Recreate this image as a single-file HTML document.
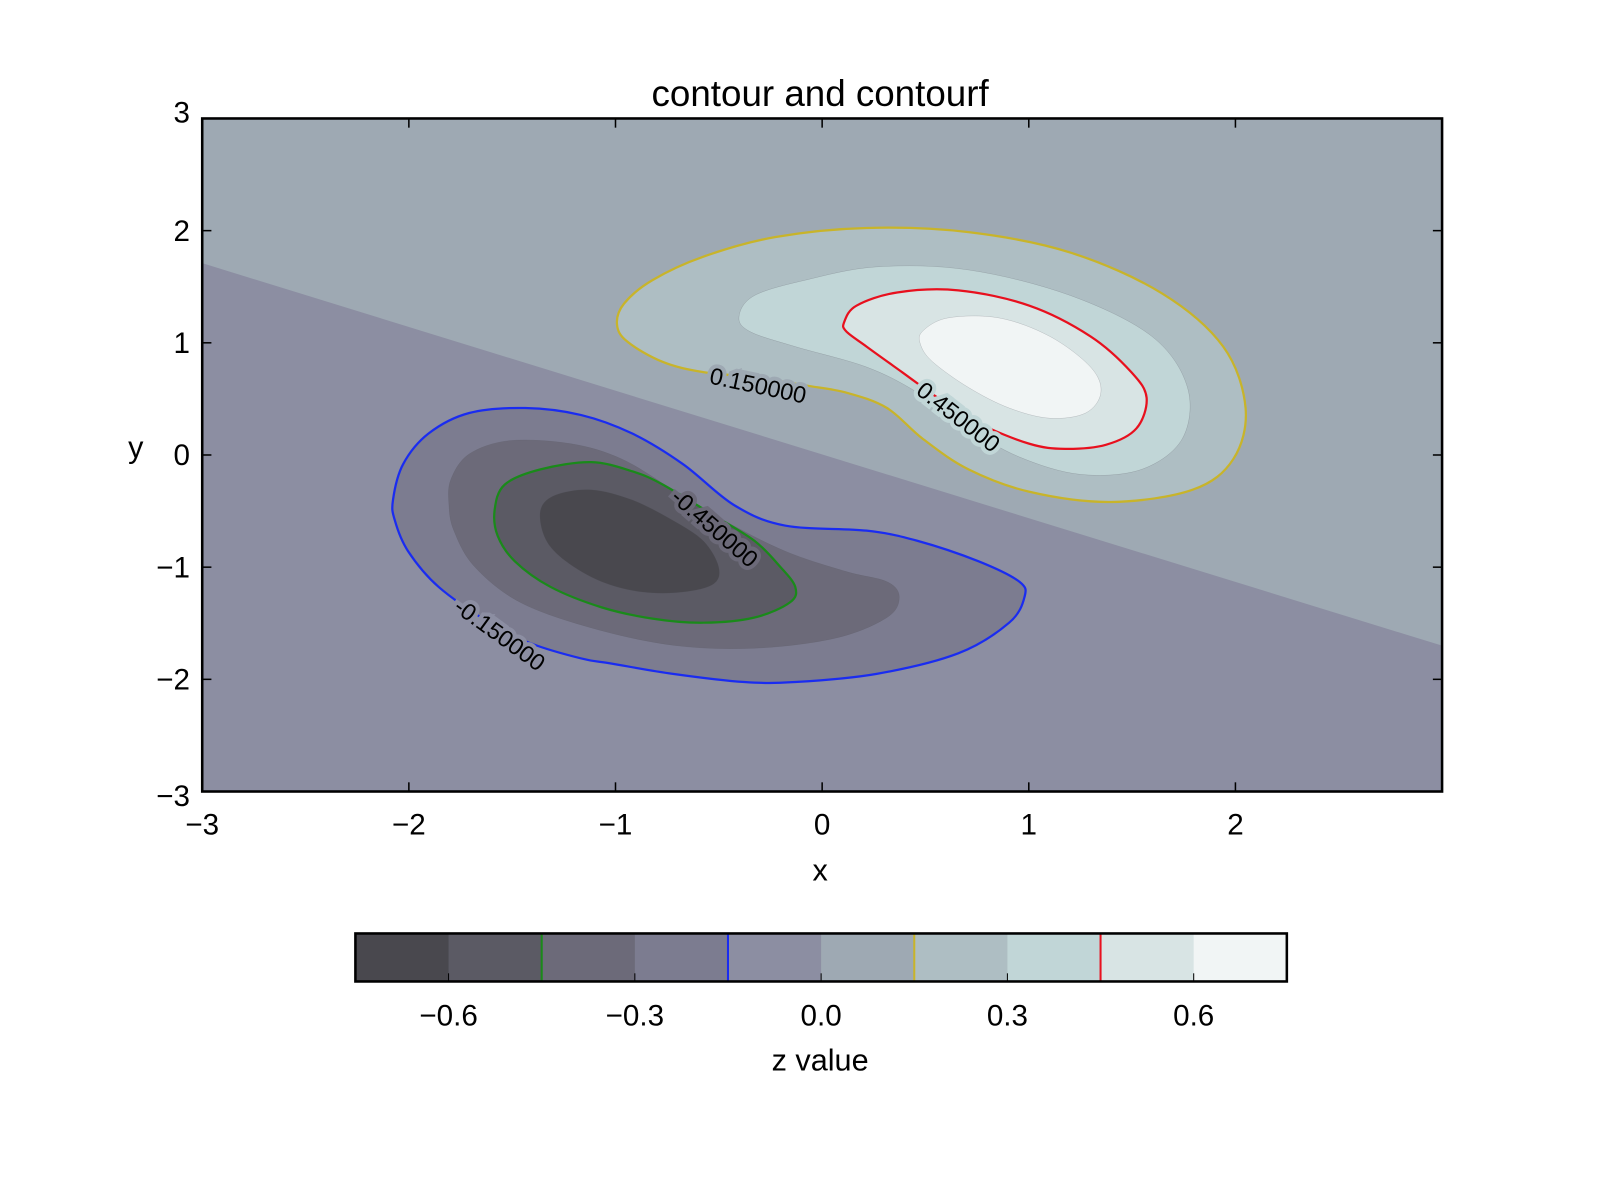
<!DOCTYPE html>
<html><head><meta charset="utf-8">
<style>
html,body{margin:0;padding:0;background:#fff;}
svg{display:block;font-family:"Liberation Sans",sans-serif;}
</style></head>
<body>
<svg id="chart" width="1600" height="1200" viewBox="0 0 1600 1200" xmlns="http://www.w3.org/2000/svg">
<defs><clipPath id="plotclip"><rect x="198" y="116" width="1214" height="659"/></clipPath></defs>
<g transform="scale(1.0213)">
<text x="803" y="104" font-size="36" text-anchor="middle">contour and contourf</text>
<g id="plot" clip-path="url(#plotclip)"></g>
<g id="axes"></g>
<g id="cbar"></g>
<text x="803" y="862" font-size="30" text-anchor="middle">x</text>
<text x="133" y="448" font-size="30" text-anchor="middle">y</text>
<text x="803" y="1048" font-size="30" text-anchor="middle">z value</text>
</g>
</svg>
<script>
// ---- data ----
const levels = [-0.75,-0.6,-0.45,-0.3,-0.15,0,0.15,0.3,0.45,0.6,0.75];
const binColors = ['#49484e','#5b5a64','#6c6a79','#7c7c90','#8c8ea2','#9ea9b3','#aebec3','#c1d6d7','#d8e4e4','#f1f5f5'];
const lineLevels = [-0.45,-0.15,0.15,0.45];
const lineColors = ['#1a8a1a','#1a2cf0','#c8b42a','#e8101e'];
const cbTicks = [-0.6,-0.3,0.0,0.3,0.6];
const xTicks = [-3,-2,-1,0,1,2];
const yTicks = [-3,-2,-1,0,1,2,3];
// zero line separating the two background bins
const zeroLineX = [-3, 3];
const zeroLineY = [1.71, -1.70];
// contour polygons (data coordinates)
const posOuterX = [-0.993,-0.959,-0.821,-0.575,-0.229,0.215,0.708,1.201,1.645,1.941,2.049,1.990,1.793,1.398,1.003,0.708,0.486,0.314,0.116,-0.081,-0.327,-0.575,-0.772,-0.944];
const posOuterY = [1.167,1.349,1.559,1.768,1.942,2.024,1.987,1.805,1.440,0.966,0.419,-0.036,-0.310,-0.419,-0.328,-0.128,0.146,0.419,0.556,0.620,0.693,0.738,0.830,1.012];
const pos30X = [-0.402,-0.327,-0.081,0.264,0.708,1.201,1.596,1.768,1.743,1.546,1.250,0.955,0.708,0.462,0.215,-0.130,-0.352];
const pos30Y = [1.240,1.422,1.559,1.677,1.650,1.422,1.057,0.602,0.146,-0.128,-0.173,-0.018,0.237,0.556,0.784,0.966,1.103];
const pos45X = [0.107,0.166,0.363,0.659,1.003,1.299,1.496,1.570,1.521,1.373,1.176,1.003,0.757,0.560,0.387,0.215,0.116];
const pos45Y = [1.185,1.331,1.449,1.468,1.331,1.057,0.738,0.510,0.237,0.091,0.055,0.100,0.283,0.510,0.738,0.966,1.103];
const pos60X = [0.486,0.609,0.856,1.102,1.299,1.349,1.275,1.102,0.905,0.708,0.535,0.476];
const pos60Y = [1.103,1.222,1.222,1.057,0.784,0.556,0.374,0.328,0.419,0.602,0.830,0.985];
const neg15X = [-2.077,-2.028,-1.905,-1.708,-1.437,-1.166,-0.919,-0.673,-0.426,-0.180,0.215,0.462,0.757,0.955,0.979,0.905,0.659,0.264,-0.130,-0.377,-0.722,-1.018,-1.166,-1.413,-1.610,-1.856,-2.004,-2.068];
const neg15Y = [-0.401,-0.082,0.191,0.374,0.419,0.356,0.191,-0.082,-0.447,-0.629,-0.675,-0.766,-0.948,-1.130,-1.267,-1.495,-1.768,-1.951,-2.024,-2.024,-1.951,-1.860,-1.814,-1.677,-1.495,-1.176,-0.857,-0.583];
const neg30X = [-1.797,-1.708,-1.511,-1.215,-0.969,-0.722,-0.476,-0.180,0.116,0.314,0.373,0.314,0.067,-0.327,-0.722,-1.117,-1.462,-1.683,-1.782,-1.806];
const neg30Y = [-0.219,0.009,0.128,0.100,-0.036,-0.310,-0.583,-0.857,-1.039,-1.130,-1.267,-1.449,-1.632,-1.723,-1.696,-1.541,-1.313,-0.994,-0.675,-0.447];
const neg45X = [-1.585,-1.536,-1.363,-1.117,-0.919,-0.771,-0.525,-0.327,-0.204,-0.130,-0.155,-0.327,-0.575,-0.821,-1.067,-1.314,-1.487,-1.570];
const neg45Y = [-0.492,-0.264,-0.128,-0.064,-0.146,-0.264,-0.538,-0.766,-0.994,-1.176,-1.313,-1.449,-1.495,-1.459,-1.358,-1.176,-0.948,-0.720];
const neg60X = [-1.363,-1.289,-1.117,-0.919,-0.722,-0.575,-0.501,-0.525,-0.673,-0.870,-1.067,-1.240,-1.339];
const neg60Y = [-0.492,-0.356,-0.310,-0.401,-0.583,-0.766,-0.994,-1.149,-1.222,-1.222,-1.130,-0.948,-0.748];
// contour labels
const labelText = ['0.150000','0.450000','-0.450000','-0.150000'];
const labelX = [-0.31,0.66,-0.52,-1.56];
const labelY = [0.62,0.34,-0.65,-1.60];
const labelAngle = [12,38,41,36];
const labelBg = ['#9ea9b3','#c1d6d7','#6c6a79','#8c8ea2'];

// ---- axes functions ----
const X0=198, X1=1412, Y0=775, Y1=116;
const sx = v => X0 + (v+3)/6*(X1-X0) ;
const sy = v => Y0 - (v+3)/6*(Y0-Y1);
const CB0=348, CB1=1260, CBT=914, CBB=961;
const cx = v => CB0 + (v-levels[0])/(levels[levels.length-1]-levels[0])*(CB1-CB0);
const NS='http://www.w3.org/2000/svg';
function mk(tag, attrs, parent){const e=document.createElementNS(NS,tag);for(const k in attrs)e.setAttribute(k,attrs[k]);parent.appendChild(e);return e;}
function smoothPath(xs, ys){
  const p = xs.map((x,i)=>[sx(x), sy(ys[i])]); const n=p.length;
  let d = `M${p[0][0].toFixed(1)},${p[0][1].toFixed(1)}`;
  for(let i=0;i<n;i++){
    const p0=p[(i-1+n)%n],p1=p[i],p2=p[(i+1)%n],p3=p[(i+2)%n];
    const c1=[p1[0]+(p2[0]-p0[0])/6,p1[1]+(p2[1]-p0[1])/6];
    const c2=[p2[0]-(p3[0]-p1[0])/6,p2[1]-(p3[1]-p1[1])/6];
    d+=`C${c1[0].toFixed(1)},${c1[1].toFixed(1)} ${c2[0].toFixed(1)},${c2[1].toFixed(1)} ${p2[0].toFixed(1)},${p2[1].toFixed(1)}`;
  }
  return d+'Z';
}
const binOf = v => levels.findIndex((l,i)=>i<levels.length-1 && v>=l && v<levels[i+1]);

const plot=document.getElementById('plot');
let e=mk('rect',{x:X0,y:Y1,width:X1-X0,height:Y0-Y1,fill:binColors[binOf(0.05)]},plot);


e=mk('path',{d:`M${sx(zeroLineX[0])},${sy(zeroLineY[0])}L${sx(zeroLineX[1])},${sy(zeroLineY[1])}L${sx(3)},${sy(-3)}L${sx(-3)},${sy(-3)}Z`,fill:binColors[binOf(-0.05)]},plot);



const fills = [
  [posOuterX,posOuterY,0.2,'fill-0.15-to-0.3'],
  [pos30X,pos30Y,0.35,'fill-0.3-to-0.45'],
  [pos45X,pos45Y,0.5,'fill-0.45-to-0.6'],
  [pos60X,pos60Y,0.65,'fill-0.6-to-0.75'],
  [neg15X,neg15Y,-0.2,'fill-neg0.3-to-neg0.15'],
  [neg30X,neg30Y,-0.35,'fill-neg0.45-to-neg0.3'],
  [neg45X,neg45Y,-0.5,'fill-neg0.6-to-neg0.45'],
  [neg60X,neg60Y,-0.65,'fill-neg0.75-to-neg0.6'],
];
fills.forEach(f=>{
  const el=mk('path',{d:smoothPath(f[0],f[1]),fill:binColors[binOf(f[2])],stroke:'#55555f','stroke-width':0.4,'stroke-opacity':0.4},plot);
  
  
});
const lines = [[neg45X,neg45Y,-0.45,'contour-line-neg0.45'],[neg15X,neg15Y,-0.15,'contour-line-neg0.15'],[posOuterX,posOuterY,0.15,'contour-line-0.15'],[pos45X,pos45Y,0.45,'contour-line-0.45']];
lines.forEach(l=>{
  const el=mk('path',{d:smoothPath(l[0],l[1]),fill:'none',stroke:lineColors[lineLevels.indexOf(l[2])],'stroke-width':2.2},plot);
  
  
});
labelText.forEach((t,i)=>{
  const x=sx(labelX[i]), y=sy(labelY[i]);
  const el=mk('text',{x:x,y:y+8,'font-size':23,'text-anchor':'middle',transform:`rotate(${labelAngle[i]} ${x} ${y})`,stroke:labelBg[i],'stroke-width':8,'paint-order':'stroke',fill:'#000'},plot);
  el.textContent=t;
  
  
});

const axes=document.getElementById('axes');
e=mk('rect',{x:X0,y:Y1,width:X1-X0,height:Y0-Y1,fill:'none',stroke:'#000','stroke-width':2.5},axes);


xTicks.forEach(v=>{
  const x=sx(v);
  mk('line',{x1:x,y1:Y0,x2:x,y2:Y0-9,stroke:'#000','stroke-width':1.5},axes);
  mk('line',{x1:x,y1:Y1,x2:x,y2:Y1+9,stroke:'#000','stroke-width':1.5},axes);
  const t=mk('text',{x:x,y:817,'font-size':29,'text-anchor':'middle'},axes);
  t.textContent=(v<0?'\u2212':'')+Math.abs(v);
  
  
});
yTicks.forEach(v=>{
  const y=sy(v);
  mk('line',{x1:X0,y1:y,x2:X0+9,y2:y,stroke:'#000','stroke-width':1.5},axes);
  mk('line',{x1:X1,y1:y,x2:X1-9,y2:y,stroke:'#000','stroke-width':1.5},axes);
  const t=mk('text',{x:186,y:y+(v===3?4:v===-3?14:10),'font-size':29,'text-anchor':'end'},axes);
  t.textContent=(v<0?'\u2212':'')+Math.abs(v);
  
  
});

const cb=document.getElementById('cbar');
binColors.forEach((c,i)=>{
  const el=mk('rect',{x:cx(levels[i]),y:CBT,width:cx(levels[i+1])-cx(levels[i])+0.5,height:CBB-CBT,fill:c},cb);
  
  
});
lineLevels.forEach((l,i)=>{
  const el=mk('line',{x1:cx(l),y1:CBT,x2:cx(l),y2:CBB,stroke:lineColors[i],'stroke-width':2},cb);
  
  
});
cbTicks.forEach(v=>{
  const x=cx(v);
  mk('line',{x1:x,y1:CBB,x2:x,y2:CBB-8,stroke:'#000','stroke-width':1},cb);
  const t=mk('text',{x:x,y:1004,'font-size':29,'text-anchor':'middle'},cb);
  t.textContent=(v<0?'\u2212':'')+Math.abs(v).toFixed(1);
  
  
});
e=mk('rect',{x:CB0,y:CBT,width:CB1-CB0,height:CBB-CBT,fill:'none',stroke:'#000','stroke-width':2.5},cb);


</script>
</body></html>
